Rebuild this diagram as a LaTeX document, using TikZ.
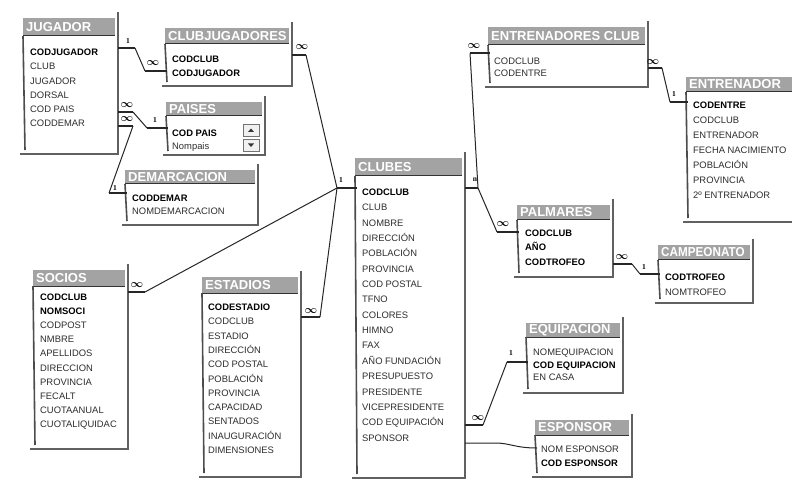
\documentclass[tikz,border=0pt]{standalone}
\usepackage{graphicx}
\usepackage{fontspec}
\setmainfont{Liberation Sans}
\newfontfamily\lblfont{Liberation Serif}
\newcommand\K[1]{\textbf{\textcolor{black}{#1}}}
\newcommand\flds[2]{\fontsize{9.4}{#1}\selectfont\begin{tabular}[t]{@{}l@{}}#2\end{tabular}}
\tikzset{
  box/.style={rectangle, inner sep=0pt, outer sep=0pt, draw=none},
  hdr/.style={rectangle, fill=black!36, inner sep=0pt, outer sep=0pt, draw=none},
  ttl/.style={text=white, font=\bfseries\fontsize{13}{13}\selectfont, inner sep=0pt},
  hsep/.style={draw=black!80, line width=1pt},
  side/.style={draw=black!70, line width=1.6pt},
  frame/.style={draw=black!62, line width=1.6pt},
  fld/.style={anchor=base west, inner sep=0pt, text=black!82},
  stub/.style={line width=2.6pt, draw=black!85},
  lnk/.style={line width=1pt, draw=black!85},
  card/.style={font=\lblfont\bfseries\fontsize{7.5}{7.5}\selectfont, inner sep=0pt},
  many/.style={font=\fontsize{11}{11}\selectfont\boldmath, inner sep=0pt}
}
% name, L, T, R, HB, B, title
\newcommand\dbt[7]{%
  \node[box, minimum width={#4-#2}, minimum height={#6-#3}, anchor=north west] (#1) at (#2,#3) {};
  \node[hdr, minimum width={#4-#2-1}, minimum height={#5-#3}, anchor=north west] (#1-h) at (#2-2,#3) {};
  \node[ttl, anchor=west] (#1-t) at ([xshift=3pt]#1-h.west) {#7};
  \draw[hsep] (#1-h.south west) -- (#1-h.south east);
  \draw[side] (#1-h.south west) -- ([yshift=4pt]#1.south west);
  \draw[frame] ([yshift=6pt]#1.north east) -- (#1.south east) -- ([xshift=-5pt]#1.south west);
}
\begin{document}
\begin{tikzpicture}[x=1pt,y=-1pt]
\useasboundingbox[fill=white] (0,0) rectangle (792,486);

% ---------- tables ----------
\dbt{jugador}{25}{18}{118}{36}{154}{JUGADOR}
\node[fld] (jugador-f) at (30,55.5) {\flds{14.3}{\K{CODJUGADOR}\\CLUB\\JUGADOR\\DORSAL\\COD PAIS\\CODDEMAR}};

\dbt{clubjug}{167}{28}{292}{44}{86}{CLUBJUGADORES}
\node[fld] (clubjug-f) at (172,62.5) {\flds{14}{\K{CODCLUB}\\\K{CODJUGADOR}}};

\dbt{paises}{168}{102}{265}{116}{155}{PAISES}
\node[fld] (paises-f) at (172,136.5) {\flds{13}{\K{COD PAIS}\\Nompais}};
\draw[black!55, fill=black!6] (243,124) rectangle (259,136);
\draw[black!55, fill=black!6] (243,139) rectangle (259,151);
\fill[black!80] (248,132) -- (254,132) -- (251,128.5) -- cycle;
\fill[black!80] (248,143.5) -- (254,143.5) -- (251,147) -- cycle;

\dbt{demarc}{127}{170}{258}{184}{225}{DEMARCACION}
\node[fld] (demarc-f) at (132,201.5) {\flds{13.5}{\K{CODDEMAR}\\NOMDEMARCACION}};

\dbt{socios}{35}{270}{128}{286}{449}{SOCIOS}
\node[fld] (socios-f) at (40,300.5) {\flds{14.1}{\K{CODCLUB}\\\K{NOMSOCI}\\CODPOST\\NMBRE\\APELLIDOS\\DIRECCION\\PROVINCIA\\FECALT\\CUOTAANUAL\\CUOTALIQUIDAC}};

\dbt{estadios}{204}{277}{301}{293}{477}{ESTADIOS}
\node[fld] (estadios-f) at (208,310.5) {\flds{14.3}{\K{CODESTADIO}\\CODCLUB\\ESTADIO\\DIRECCIÓN\\COD POSTAL\\POBLACIÓN\\PROVINCIA\\CAPACIDAD\\SENTADOS\\INAUGURACIÓN\\DIMENSIONES}};

\dbt{clubes}{357}{158}{465}{176}{478}{CLUBES}
\node[fld] (clubes-f) at (362,195.5) {\flds{15.35}{\K{CODCLUB}\\CLUB\\NOMBRE\\DIRECCIÓN\\POBLACIÓN\\PROVINCIA\\COD POSTAL\\TFNO\\COLORES\\HIMNO\\FAX\\AÑO FUNDACIÓN\\PRESUPUESTO\\PRESIDENTE\\VICEPRESIDENTE\\COD EQUIPACIÓN\\SPONSOR}};

\dbt{entclub}{490}{27}{648}{45}{87}{ENTRENADORES CLUB}
\node[fld] (entclub-f) at (494,64.5) {\flds{12.5}{CODCLUB\\CODENTRE}};

\dbt{entrenador}{688}{77}{800}{92}{222}{ENTRENADOR}
\node[fld] (entrenador-f) at (693,108.5) {\flds{15}{\K{CODENTRE}\\CODCLUB\\ENTRENADOR\\FECHA NACIMIENTO\\POBLACIÓN\\PROVINCIA\\2º ENTRENADOR}};

\dbt{palmares}{519}{205}{613}{220}{277}{PALMARES}
\node[fld] (palmares-f) at (525,236.5) {\flds{14.5}{\K{CODCLUB}\\\K{AÑO}\\\K{CODTROFEO}}};

\dbt{campeonato}{660}{245}{753}{260}{303}{\scalebox{0.9}[1]{CAMPEONATO}}
\node[fld] (campeonato-f) at (665,280.5) {\flds{14.5}{\K{CODTROFEO}\\NOMTROFEO}};

\dbt{equipacion}{528}{323}{623}{337}{393}{EQUIPACION}
\node[fld] (equipacion-f) at (533,355.5) {\flds{12.5}{NOMEQUIPACION\\\K{COD EQUIPACION}\\EN CASA}};

\dbt{esponsor}{537}{420}{632}{435}{477}{ESPONSOR}
\node[fld] (esponsor-f) at (541,452.5) {\flds{14}{NOM ESPONSOR\\\K{COD ESPONSOR}}};

% ---------- relationships ----------
% JUGADOR - CLUBJUGADORES
\draw[stub] (jugador.east |- 0,48) -- (135,48);
\draw[lnk] (135,48) -- (145,71);
\draw[stub] (145,71) -- (clubjug.west |- 0,71);
\node[card] (c1) at (128,41) {1};
\node[many] (m1) at (153,63) {$\infty$};

% JUGADOR - PAISES
\draw[stub] (jugador.east |- 0,112) -- (133,112);
\draw[lnk] (133,112) -- (147,128);
\draw[stub] (147,128) -- (paises.west |- 0,128);
\node[many] (m2) at (127,105) {$\infty$};
\node[card] (c2) at (155,120) {1};

% JUGADOR - DEMARCACION
\draw[stub] (jugador.east |- 0,126) -- (133,126);
\draw[lnk] (133,126) -- (109,193);
\draw[stub] (109,193) -- (demarc.west |- 0,193);
\node[many] (m3) at (127,119.5) {$\infty$};
\node[card] (c3) at (115,188) {1};

% CLUBES left junction
\coordinate (jc) at (337,188);
\draw[stub] (jc) -- (clubes.west |- 0,188);
\node[card] (c4) at (341,180) {1};
% CLUBJUGADORES - CLUBES
\draw[stub] (clubjug.east |- 0,55) -- (306,55);
\draw[lnk] (306,55) -- (jc);
\node[many] (m4) at (302,47) {$\infty$};
% SOCIOS - CLUBES
\draw[stub] (socios.east |- 0,292) -- (145,292);
\draw[lnk] (145,292) -- (jc);
\node[many] (m5) at (137,285) {$\infty$};
% ESTADIOS - CLUBES
\draw[stub] (estadios.east |- 0,317) -- (320,317);
\draw[lnk] (320,317) -- (jc);
\node[many] (m6) at (311,311) {$\infty$};

% CLUBES right junction
\coordinate (jr) at (478,188);
\draw[stub] (clubes.east |- 0,188) -- (jr);
\node[card] (c5) at (475,180) {n};
% CLUBES - ENTRENADORES CLUB
\draw[lnk] (jr) -- (470,53);
\draw[stub] (470,53) -- (entclub.west |- 0,53);
\node[many] (m7) at (474,46) {$\infty$};
% CLUBES - PALMARES
\draw[lnk] (jr) -- (497,232);
\draw[stub] (497,232) -- (palmares.west |- 0,232);
\node[many] (m8) at (503,224) {$\infty$};

% ENTRENADORES CLUB - ENTRENADOR
\draw[stub] (entclub.east |- 0,68) -- (662,68);
\draw[lnk] (662,68) -- (670,102);
\draw[stub] (670,102) -- (entrenador.west |- 0,102);
\node[many] (m9) at (653,62) {$\infty$};
\node[card] (c6) at (674,94) {1};

% PALMARES - CAMPEONATO
\draw[stub] (palmares.east |- 0,264) -- (632,264);
\draw[lnk] (632,264) -- (640,274);
\draw[stub] (640,274) -- (campeonato.west |- 0,274);
\node[many] (m10) at (622,257) {$\infty$};
\node[card] (c7) at (644,267) {1};

% CLUBES - EQUIPACION
\draw[stub] (clubes.east |- 0,425) -- (483,425);
\draw[lnk] (483,425) -- (507,362);
\draw[stub] (507,362) -- (equipacion.west |- 0,362);
\node[many] (m11) at (478,418) {$\infty$};
\node[card] (c8) at (511,353) {1};

% CLUBES - ESPONSOR
\draw[lnk] (clubes.east |- 0,443) -- (495,443) .. controls (510,443) and (515,448) .. (esponsor.west |- 0,448);
\end{tikzpicture}
\end{document}
